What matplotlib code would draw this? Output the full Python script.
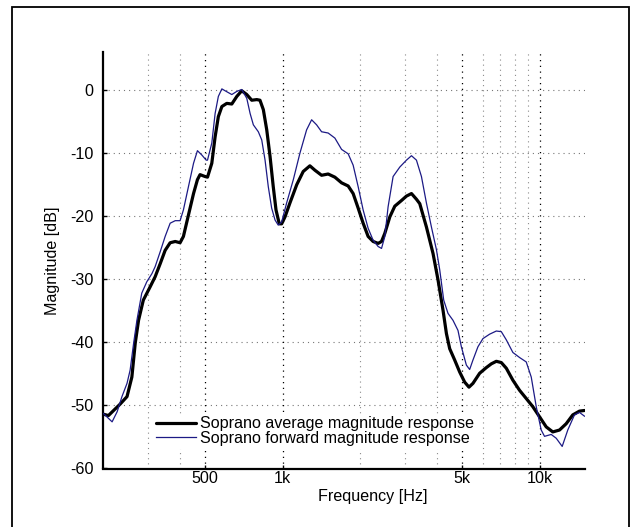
import matplotlib
matplotlib.use("Agg")
import matplotlib.pyplot as plt
from matplotlib.patches import Rectangle

plt.rcParams['font.family'] = ['Liberation Sans', 'DejaVu Sans']
plt.rcParams['axes.unicode_minus'] = False

# Soprano average magnitude response
avg_freq = [201, 210, 233, 248, 259, 267, 275, 287, 305, 319, 334, 349, 365, 382, 399,
            411, 430, 450, 466, 477, 499, 510, 530, 546, 562, 580, 606, 634, 663, 693,
            725, 758, 793, 816, 841, 867, 893, 919, 942, 970, 991, 1021, 1067, 1134,
            1202, 1276, 1335, 1417, 1503, 1596, 1695, 1798, 1880, 1966, 2056, 2150,
            2248, 2352, 2424, 2497, 2611, 2730, 2899, 3031, 3170, 3314, 3414, 3624,
            3845, 4021, 4205, 4335, 4464, 4668, 4882, 5105, 5305, 5498, 5837, 6197,
            6482, 6778, 7088, 7412, 7862, 8347, 8861, 9401, 9982, 10597, 11243, 11937,
            12673, 13442, 14275, 14928]
avg_db = [-51.4, -51.6, -49.8, -48.6, -45.5, -40.1, -36.5, -33.3, -31.2, -29.6, -27.5,
          -25.4, -24.2, -24.0, -24.2, -23.2, -19.8, -16.4, -14.2, -13.4, -13.7, -13.8,
          -11.6, -7.4, -4.2, -2.6, -2.1, -2.2, -1.0, -0.1, -0.7, -1.6, -1.5, -1.6, -3.1,
          -6.3, -10.5, -15.3, -19.0, -21.2, -21.2, -20.1, -17.9, -15.0, -12.9, -12.0,
          -12.7, -13.5, -13.3, -13.8, -14.7, -15.2, -16.4, -18.7, -21.1, -23.2, -24.0,
          -24.3, -24.0, -22.7, -20.1, -18.4, -17.5, -16.8, -16.4, -17.3, -18.0, -21.7,
          -25.9, -30.1, -34.9, -38.6, -41.0, -42.8, -44.7, -46.3, -47.1, -46.5, -44.9,
          -44.0, -43.4, -43.0, -43.2, -44.1, -46.0, -47.6, -48.9, -50.2, -51.8, -53.4,
          -54.2, -53.9, -52.9, -51.5, -50.9, -50.8]

# Soprano forward magnitude response
fwd_freq = [201, 217, 227, 237, 248, 255, 263, 271, 283, 296, 310, 319, 334, 349, 365,
            382, 399, 411, 430, 450, 466, 485, 504, 510, 530, 546, 562, 580, 597, 634,
            663, 693, 725, 747, 769, 804, 829, 854, 879, 906, 934, 961, 991, 1036, 1100,
            1167, 1239, 1296, 1355, 1417, 1503, 1596, 1695, 1798, 1880, 1966, 2056,
            2150, 2248, 2352, 2424, 2497, 2571, 2689, 2855, 3031, 3170, 3314, 3466,
            3624, 3790, 3964, 4083, 4231, 4397, 4598, 4808, 4956, 5183, 5338, 5498,
            5749, 6012, 6383, 6778, 7088, 7412, 7862, 8347, 8861, 9268, 9692, 10134,
            10438, 11083, 11590, 12228, 12855, 13648, 14275, 14928]
fwd_db = [-51.3, -52.6, -51.0, -48.6, -46.5, -44.4, -40.2, -36.5, -32.2, -30.4, -29.1,
          -28.0, -25.6, -23.2, -21.1, -20.7, -20.7, -19.0, -15.3, -11.6, -9.6, -10.3,
          -11.1, -11.1, -8.4, -3.7, -1.0, 0.2, -0.1, -0.7, -0.2, 0.1, -1.3, -3.7, -5.5,
          -6.6, -7.9, -11.1, -15.3, -18.7, -20.6, -21.4, -20.9, -17.9, -14.2, -10.0,
          -6.3, -4.7, -5.5, -6.6, -6.8, -7.6, -9.4, -10.1, -11.9, -15.3, -19.0, -21.9,
          -23.8, -24.8, -25.1, -23.2, -18.5, -13.7, -12.2, -11.1, -10.4, -11.1, -13.7,
          -17.9, -21.7, -25.3, -28.5, -33.3, -35.4, -36.5, -38.1, -40.7, -43.6, -44.3,
          -42.8, -40.7, -39.4, -38.7, -38.2, -38.3, -39.6, -41.6, -42.4, -43.1, -45.5,
          -50.2, -53.9, -54.9, -54.6, -55.2, -56.5, -53.9, -51.5, -51.1, -51.7]

x_ticks = [500, 1000, 5000, 10000]
x_tick_labels = ['500', '1k', '5k', '10k']
x_minor_grid = [300, 400, 2000, 3000, 4000, 6000, 7000, 8000, 9000]
y_ticks = [-60, -50, -40, -30, -20, -10, 0]
labels = ['Soprano average magnitude response', 'Soprano forward magnitude response']

FS = 11.6

fig = plt.figure(figsize=(6.35, 5.27), dpi=100)
ax_l, ax_r, ax_t, ax_b = 103, 585, 52.3, 468.5
ax = fig.add_axes([ax_l/635, 1 - ax_b/527, (ax_r-ax_l)/635, (ax_b-ax_t)/527])
axw, axh = ax_r - ax_l, ax_b - ax_t

# outer frame
fig.patches.append(Rectangle((12/635, -0.05), (629-12)/635, 1.05 - 7/527,
                             transform=fig.transFigure, fill=False,
                             edgecolor='black', linewidth=1.3))

ax.set_xscale('log')
ax.set_xlim(200, 15000)
ax.set_ylim(-60, 6)

dot = (0, (1, 3.6))
for y in y_ticks[1:]:
    ax.axhline(y, color='#777777', linestyle=dot, linewidth=0.8, zorder=1)
for x in x_ticks:
    ax.axvline(x, color='black', linestyle=dot, linewidth=0.9, zorder=1)
for x in x_minor_grid:
    ax.axvline(x, color='#8a8a8a', linestyle=dot, linewidth=0.8, zorder=1)

l1, = ax.plot(avg_freq, avg_db, color='black', linewidth=2.3, zorder=3,
              solid_joinstyle='round', solid_capstyle='round')
l2, = ax.plot(fwd_freq, fwd_db, color='#1c1a85', linewidth=0.9, zorder=4)

ax.set_xticks(x_ticks)
ax.set_xticklabels(x_tick_labels)
ax.xaxis.set_minor_locator(matplotlib.ticker.NullLocator())
ax.set_yticks(y_ticks)
ax.tick_params(direction='in', length=3, width=1, labelsize=FS)
ax.tick_params(axis='x', pad=2)
ax.tick_params(axis='y', pad=7)

for s in ['top', 'right']:
    ax.spines[s].set_visible(False)
for s in ['left', 'bottom']:
    ax.spines[s].set_linewidth(1.6)

ax.set_xlabel('Frequency [Hz]', fontsize=FS)
ax.xaxis.set_label_coords((373 - ax_l) / axw, -(489 - ax_b) / axh)
ax.set_ylabel('Magnitude [dB]', fontsize=FS, labelpad=7)

leg = ax.legend([l1, l2], labels, loc='lower left', bbox_to_anchor=(0.105, 0.048),
                frameon=True, fancybox=False, edgecolor='none', facecolor='white',
                framealpha=1, fontsize=FS, handlelength=2.5, handletextpad=0.2,
                labelspacing=-0.02, borderpad=0.15, borderaxespad=0)
leg.set_zorder(5)

fig.savefig('out.png', dpi=100)
